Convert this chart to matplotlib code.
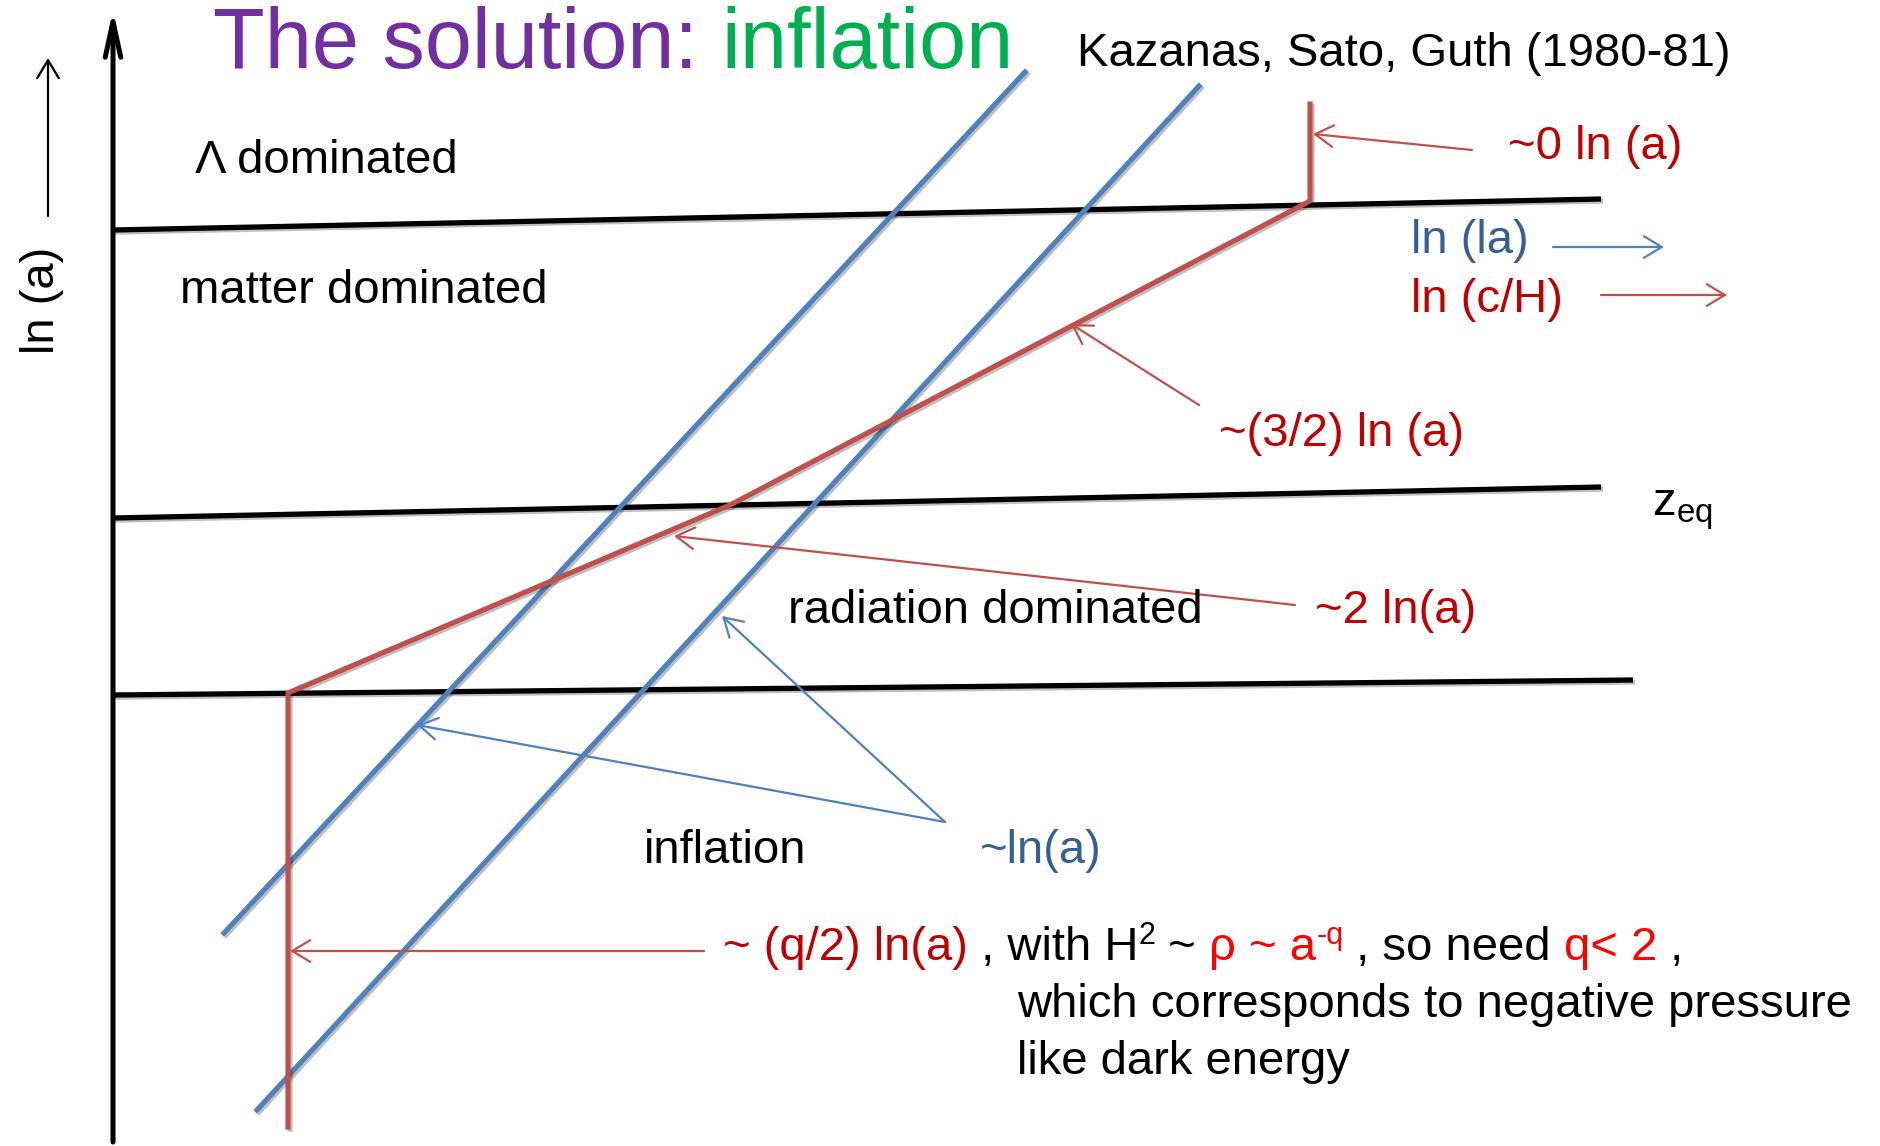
import matplotlib
matplotlib.use("Agg")
import matplotlib.pyplot as plt
import matplotlib.patheffects as pe

plt.rcParams['font.family'] = ['Liberation Sans', 'DejaVu Sans']
plt.rcParams['mathtext.fontset'] = 'custom'
plt.rcParams['mathtext.rm'] = 'Liberation Sans'
plt.rcParams['mathtext.it'] = 'Liberation Sans:italic'

# slide coordinates (pixels, y grows downward)
lam_x = [113, 1601]
lam_y = [230, 199]
eq_x = [113, 1601]
eq_y = [518, 487]
infl_end_x = [113, 1633]
infl_end_y = [695, 680]

hubble_x = [288, 288, 730, 1310, 1310]
hubble_y = [1127, 693, 505, 201, 104]

scale1_x = [224, 1025]
scale1_y = [933, 72]
scale2_x = [257, 1199]
scale2_y = [1110, 86]

# annotation arrows: (from, to, colour)
arrows = [
    ((1472, 150), (1313, 134), 'red'),
    ((1553, 247), (1664, 247), 'blue'),
    ((1601, 295), (1727, 295), 'red'),
    ((1199, 405), (1071, 324), 'red'),
    ((1295, 605), (674, 536), 'red'),
    ((945, 822), (417, 725), 'blue'),
    ((945, 822), (722, 616), 'blue'),
    ((704, 951), (290, 951), 'red'),
    ((48, 216), (48, 58), 'black'),
]

LINE_RED = '#C0504D'
LINE_BLUE = '#4F81BD'
TXT_RED = '#C00000'
TXT_BLUE = '#366092'
BRIGHT_RED = '#FF0000'
PURPLE = '#7030A0'
GREEN = '#00B050'
arrow_col = {'red': LINE_RED, 'blue': LINE_BLUE, 'black': 'black'}

fig = plt.figure(figsize=(18.8, 11.46), dpi=100)
ax = fig.add_axes([0, 0, 1, 1])
ax.set_xlim(0, 1880)
ax.set_ylim(1146, 0)
ax.axis('off')

shadow = [pe.SimpleLineShadow(offset=(1.5, -1.5), alpha=0.25), pe.Normal()]

# vertical ln(a) axis
ax.annotate('', xy=(113, 10), xytext=(113, 1142),
            arrowprops=dict(arrowstyle='->,head_length=1.6,head_width=0.35',
                            lw=3.6, color='black', mutation_scale=16,
                            shrinkA=0, shrinkB=0))

for xs, ys in [(lam_x, lam_y), (eq_x, eq_y), (infl_end_x, infl_end_y)]:
    ax.plot(xs, ys, color='black', lw=3.8, solid_capstyle='butt', path_effects=shadow)

ax.plot(scale1_x, scale1_y, color=LINE_BLUE, lw=3.7, path_effects=shadow)
ax.plot(scale2_x, scale2_y, color=LINE_BLUE, lw=3.7, path_effects=shadow)
ax.plot(hubble_x, hubble_y, color=LINE_RED, lw=3.7, solid_joinstyle='miter',
        path_effects=shadow)

for start, end, c in arrows:
    ax.annotate('', xy=end, xytext=start,
                arrowprops=dict(arrowstyle='->,head_length=1.0,head_width=0.6',
                                lw=1.6, color=arrow_col[c], mutation_scale=13,
                                shrinkA=0, shrinkB=0))

FS = 34
renderer = fig.canvas.get_renderer()


def pieces(x, y, parts, size=FS):
    # parts: (text, colour) or (text, colour, size, raise_px)
    for p in parts:
        s, c = p[0], p[1]
        sz = p[2] if len(p) > 2 else size
        dy = p[3] if len(p) > 3 else 0
        t = ax.text(x, y - dy, s, color=c, fontsize=sz, va='baseline', ha='left')
        bb = t.get_window_extent(renderer)
        x = ax.transData.inverted().transform((bb.x1, bb.y0))[0]


pieces(213, 68, [('The solution: ', PURPLE), ('inflation', GREEN)], size=61)
ax.text(1077, 66, 'Kazanas, Sato, Guth (1980-81)', fontsize=FS, va='baseline')

ax.text(195, 173, '\u039b dominated', fontsize=FS, va='baseline')
ax.text(180, 303, 'matter dominated', fontsize=FS, va='baseline')
ax.text(788, 623, 'radiation dominated', fontsize=FS, va='baseline')
ax.text(644, 863, 'inflation', fontsize=FS, va='baseline')
ax.text(42, 300, 'ln (a)', fontsize=FS, rotation=90, ha='center', va='center')

ax.text(1508, 159, '~0 ln (a)', fontsize=FS, color=TXT_RED, va='baseline')
ax.text(1411, 253, 'ln (la)', fontsize=FS, color=TXT_BLUE, va='baseline')
ax.text(1411, 312, 'ln (c/H)', fontsize=FS, color=TXT_RED, va='baseline')
ax.text(1219, 446, '~(3/2) ln (a)', fontsize=FS, color=TXT_RED, va='baseline')
ax.text(1652, 516, r'z$_{\mathregular{eq}}$', fontsize=FS, va='baseline')
ax.text(1315, 623, '~2 ln(a)', fontsize=FS, color=TXT_RED, va='baseline')
ax.text(980, 863, '~ln(a)', fontsize=FS, color=TXT_BLUE, va='baseline')

pieces(723, 960, [('~ (q/2) ln(a)', TXT_RED),
                  (' , with H', 'black'),
                  ('2', 'black', 22, 16),
                  (' ~ ', 'black'),
                  ('\u03c1 ~ a', BRIGHT_RED),
                  ('-q', BRIGHT_RED, 22, 16),
                  (' , so need ', 'black'),
                  ('q< 2', BRIGHT_RED),
                  (' ,', 'black')])
ax.text(1017, 1017, 'which corresponds to negative pressure', fontsize=FS, va='baseline')
ax.text(1017, 1074, 'like dark energy', fontsize=FS, va='baseline')

fig.savefig('out.png', dpi=100, facecolor='white')
